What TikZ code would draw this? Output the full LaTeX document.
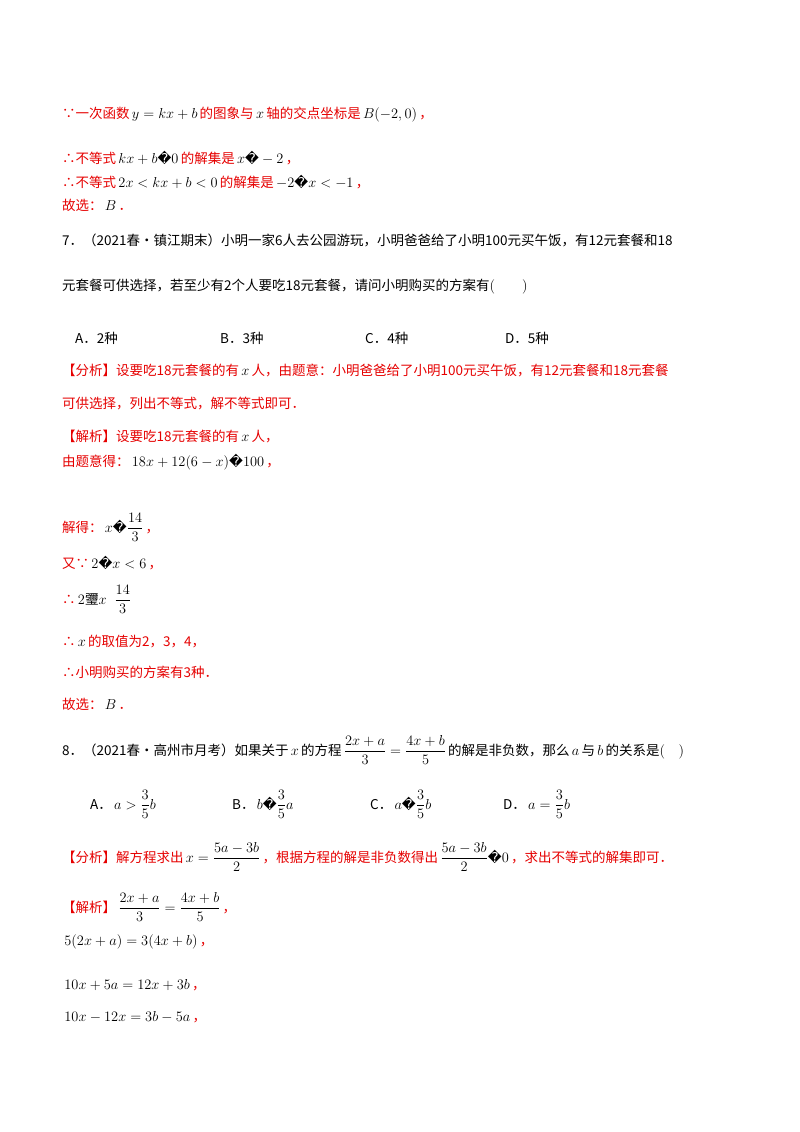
\documentclass[tikz,border=0pt]{standalone}
\usepackage{amsmath}
\usepackage{fontspec}
\setmainfont{Liberation Serif}
\newfontfamily\cjk{Noto Sans CJK SC}
\newfontfamily\dv{DejaVu Sans}
\newcommand{\bad}{{\dv\char"FFFD}}
\newcommand{\mm}[1]{{\color{black}\,$#1$\,}}
\definecolor{rd}{RGB}{230,0,0}
\begin{document}
\begin{tikzpicture}[x=1pt,y=-1pt,
  t/.style={anchor=base west,inner sep=0pt,font=\fontsize{13.5}{16}\selectfont\cjk},
  r/.style={t,text=rd}]
\useasboundingbox[fill=white] (0,0) rectangle (800,1132);
\node[r] (l1) at (62,118) {∵一次函数\mm{y=kx+b}的图象与\mm{x}轴的交点坐标是\mm{B(-2,0)}，};
\node[r] (l2) at (62,163) {∴不等式\mm{kx+b\text{\bad}0}的解集是\mm{x\text{\bad}-2}，};
\node[r] (l3) at (62,187) {∴不等式\mm{2x<kx+b<0}的解集是\mm{-2\text{\bad}x<-1}，};
\node[r] (l4) at (62,210) {故选：\mm{B}．};
\node[t] (q7a) at (62,245) {7．（2021春•镇江期末）小明一家6人去公园游玩，小明爸爸给了小明100元买午饭，有12元套餐和18};
\node[t] (q7b) at (62,290) {元套餐可供选择，若至少有2个人要吃18元套餐，请问小明购买的方案有$(\qquad)$};
\node[t] (oa) at (75,343) {A．2种};
\node[t] (ob) at (220,343) {B．3种};
\node[t] (oc) at (365,343) {C．4种};
\node[t] (od) at (505,343) {D．5种};
\node[r] (f1) at (62,375) {【分析】设要吃18元套餐的有\mm{x}人，由题意：小明爸爸给了小明100元买午饭，有12元套餐和18元套餐};
\node[r] (f2) at (62,408) {可供选择，列出不等式，解不等式即可．};
\node[r] (j1) at (62,441) {【解析】设要吃18元套餐的有\mm{x}人，};
\node[r] (j2) at (62,466) {由题意得：\mm{18x+12(6-x)\text{\bad}100}，};
\node[r] (j3) at (62,532) {解得：\mm{x\text{\bad}\dfrac{14}{3}}，};
\node[r] (j4) at (62,568) {又∵\mm{2\text{\bad}x<6}，};
\node[r] (j5) at (62,604) {∴\mm{2\text{\cjk 瓕}x\;\;\dfrac{14}{3}}};
\node[r] (j6) at (62,646) {∴\mm{x}的取值为2，3，4，};
\node[r] (j7) at (62,677) {∴小明购买的方案有3种．};
\node[r] (j8) at (62,709) {故选：\mm{B}．};
\node[t] (q8) at (62,755) {8．（2021春•高州市月考）如果关于\mm{x}的方程\mm{\dfrac{2x+a}{3}=\dfrac{4x+b}{5}}的解是非负数，那么\mm{a}与\mm{b}的关系是$(\quad)$};
\node[t] (a8) at (90,809) {A．\mm{a>\dfrac{3}{5}b}};
\node[t] (b8) at (232,809) {B．\mm{b\text{\bad}\dfrac{3}{5}a}};
\node[t] (c8) at (370,809) {C．\mm{a\text{\bad}\dfrac{3}{5}b}};
\node[t] (d8) at (503,809) {D．\mm{a=\dfrac{3}{5}b}};
\node[r] (g1) at (62,862) {【分析】解方程求出\mm{x=\dfrac{5a-3b}{2}}，根据方程的解是非负数得出\mm{\dfrac{5a-3b}{2}\text{\bad}0}，求出不等式的解集即可．};
\node[r] (h1) at (62,912) {【解析】\mm{\dfrac{2x+a}{3}=\dfrac{4x+b}{5}}，};
\node[r] (h2) at (62,945) {\mm{5(2x+a)=3(4x+b)}，};
\node[r] (h3) at (62,989) {\mm{10x+5a=12x+3b}，};
\node[r] (h4) at (62,1021) {\mm{10x-12x=3b-5a}，};
\end{tikzpicture}
\end{document}
